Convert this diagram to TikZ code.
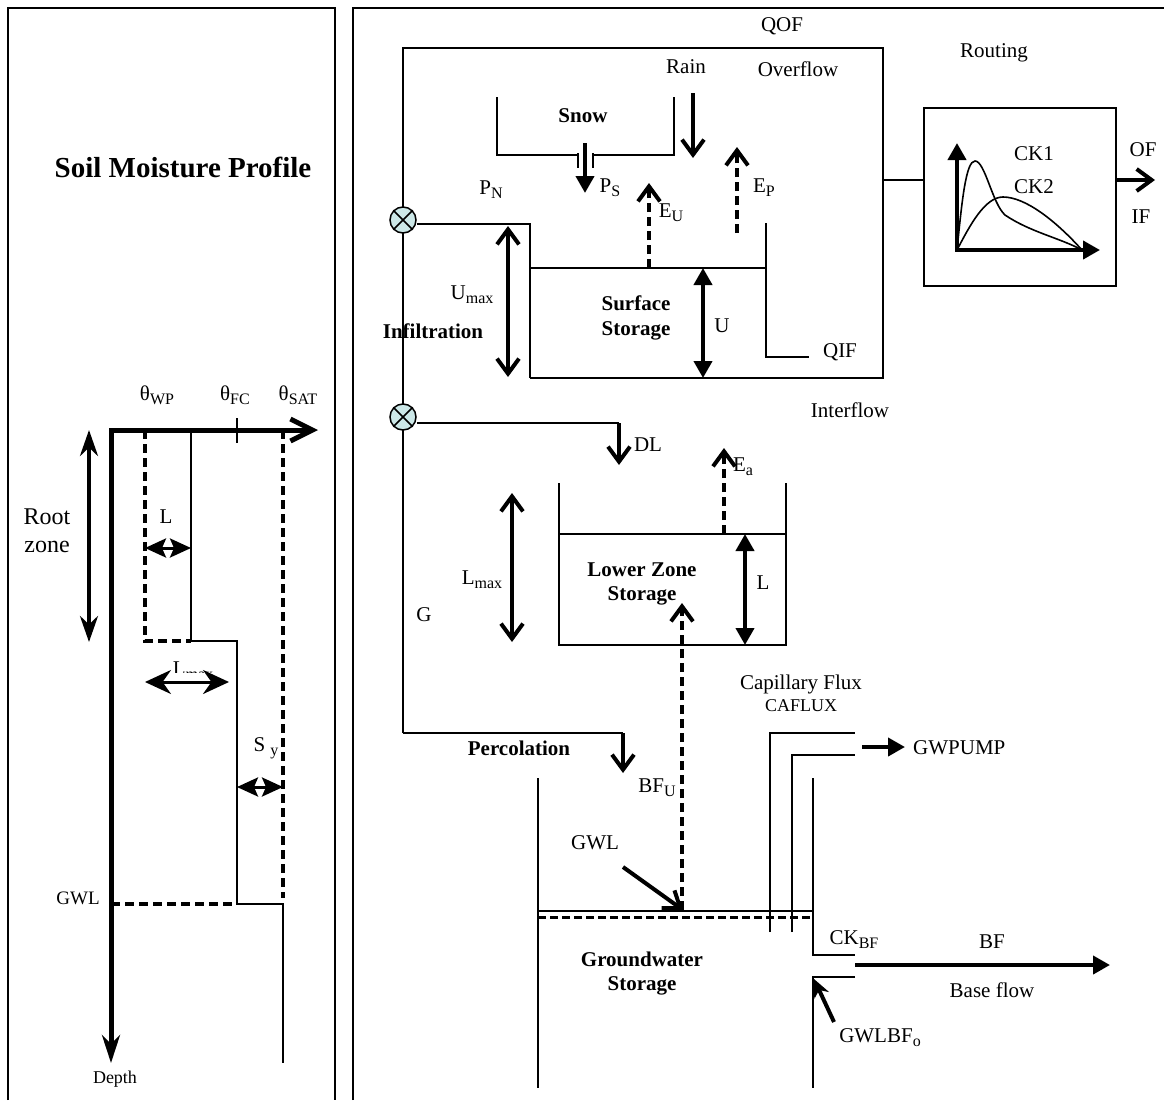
\documentclass[tikz,border=0pt]{standalone}
\usepackage{fontspec}
\setmainfont{Liberation Serif}
\usetikzlibrary{arrows.meta}
\newcommand{\mysub}[1]{\raisebox{-4pt}{\fontsize{16}{16}\selectfont #1}}
\definecolor{xfill}{RGB}{204,232,232}
\tikzset{
  lbl/.style={font=\fontsize{21}{24}\selectfont, inner sep=0pt},
  blbl/.style={font=\fontsize{21}{24}\selectfont\bfseries, inner sep=0pt, align=center},
  thinl/.style={line width=1.6pt},
  frame/.style={line width=1.8pt},
  thk/.style={line width=4pt},
  dsh/.style={line width=4pt, dash pattern=on 9pt off 5pt},
  gdsh/.style={line width=3pt, dash pattern=on 8pt off 4pt},
  ob/.tip={Straight Barb[length=15pt,width=22pt]},
  tri/.tip={Triangle[length=17pt,width=18pt]},
  stl/.tip={Stealth[length=26pt,width=18pt]},
  sml/.tip={Stealth[length=21pt,width=19pt,inset=4pt]},
  xcirc/.style={circle, draw, line width=1.5pt, fill=xfill, minimum size=26pt, inner sep=0pt},
}
\begin{document}
\begin{tikzpicture}[x=1pt,y=-1pt]
\useasboundingbox (0,0) rectangle (1164,1100);
% panels
\draw[frame] (8,1100) -- (8,8) -- (335,8) -- (335,1100);
\draw[frame] (353,1100) -- (353,8) -- (1164,8);

% ===== left panel =====
\node[font=\fontsize{29}{32}\selectfont\bfseries, inner sep=0pt] (title) at (183,167) {Soil Moisture Profile};
\node[lbl] (twp) at (157,395) {θ\mysub{WP}};
\node[lbl] (tfc) at (235,395) {θ\mysub{FC}};
\node[lbl] (tsat) at (298,395) {θ\mysub{SAT}};
\coordinate (O) at (111,430);
\coordinate (xe) at (318,430);
\coordinate (ye) at (111,1063);
\coordinate (wp0) at (145,430);
\coordinate (wp1) at (145,641);
\coordinate (fc0) at (191,430);
\coordinate (fc1) at (191,641);
\coordinate (fc2) at (237,641);
\coordinate (fc3) at (237,904);
\coordinate (fc4) at (283,904);
\coordinate (fc5) at (283,1063);
\coordinate (s0) at (283,430);
\coordinate (s1) at (283,898);
\coordinate (gw0) at (111,904);
\coordinate (gw1) at (232,904);
\draw[thinl] (fc0) -- (fc1) -- (fc2) -- (fc3) -- (fc4) -- (fc5);
\draw[dsh] (wp0) -- (wp1) -- (fc1);
\draw[dsh] (s0) -- (s1);
\draw[dsh] (gw0) -- (gw1);
\draw[thinl] (237,418) -- (237,443);
\draw[line width=5pt, {Stealth[length=28pt,width=18pt]}-{Straight Barb[length=22pt,width=22pt]}] (ye) -- (O) -- (xe);
\node[font=\fontsize{18}{20}\selectfont, inner sep=0pt] (depth) at (115,1079) {Depth};
\node[font=\fontsize{24}{28}\selectfont, inner sep=0pt, align=center] (root) at (47,531) {Root\\zone};
\draw[thk, stl-stl] (89,430) -- (89,642);
\node[lbl] (lL) at (166,517) {L};
\draw[line width=3pt, sml-sml] (145,548) -- (191,548);
\begin{scope}
  \clip (150,640) rectangle (232,672);
  \node[lbl, anchor=base] (lLmax) at (193,675) {L\mysub{max}};
\end{scope}
\draw[line width=3pt, {Stealth[length=26pt,width=24pt]}-{Stealth[length=26pt,width=24pt]}] (145,682) -- (229,682);
\node[lbl] (lSy) at (266,748) {S \mysub{y}};
\draw[line width=3pt, sml-sml] (237,787) -- (283,787);
\node[font=\fontsize{19}{22}\selectfont, inner sep=0pt] (lgwl) at (78,898) {GWL};

% ===== right panel =====
% upper box
\coordinate (bx0) at (403,733);
\coordinate (bx1) at (403,48);
\coordinate (bx2) at (883,48);
\coordinate (bx3) at (883,378);
\coordinate (bx4) at (530,378);
\draw[thinl] (bx0) -- (bx1) -- (bx2) -- (bx3) -- (bx4);
\node[xcirc] (c1) at (403,220) {};
\node[xcirc] (c2) at (403,417) {};
\foreach \c in {c1,c2} {
  \draw[line width=1.5pt] (\c.north west) -- (\c.south east);
  \draw[line width=1.5pt] (\c.north east) -- (\c.south west);
}
\coordinate (ss0) at (530,224);
\draw[thinl] ([yshift=-4pt]c1.east) -- (ss0) -- (bx4);
\coordinate (sw0) at (530,268);
\coordinate (sw1) at (766,268);
\draw[thinl] (sw0) -- (sw1);
\coordinate (qr0) at (766,223);
\coordinate (qr1) at (766,357);
\coordinate (qr2) at (809,357);
\draw[thinl] (qr0) -- (qr1) -- (qr2);
% snow
\draw[thinl] (497,97) -- (497,155) -- (578,155);
\draw[thinl] (593,155) -- (674,155) -- (674,97);
\draw[thinl] (578,153) -- (578,168);
\draw[thinl] (593,153) -- (593,168);
\node[blbl] (snow) at (583,116) {Snow};
\draw[thk, -tri] (585,143) -- (585,193);
\node[lbl] (ps) at (610,188) {P\mysub{S}};
\node[lbl] (rain) at (686,67) {Rain};
\draw[thk, -ob] (693,93) -- (693,158);
\node[lbl] (pn) at (491,190) {P\mysub{N}};
\draw[dsh, -ob] (649,268) -- (649,183);
\node[lbl] (eu) at (671,213) {E\mysub{U}};
\draw[dsh, -ob] (737,233) -- (737,147);
\node[lbl] (ep) at (764,188) {E\mysub{P}};
\node[lbl] (over) at (798,69) {Overflow};
\node[lbl] (qof) at (782,26) {QOF};
\node[lbl] (qif) at (840,352) {QIF};
\node[blbl, font=\fontsize{21}{25}\selectfont\bfseries] (ss) at (636,318) {Surface\\Storage};
\node[lbl] (umax) at (472,295) {U\mysub{max}};
\draw[thk, ob-ob] (508,226) -- (508,377);
\node[blbl] (inf) at (433,331) {Infiltration};
\draw[thk, tri-tri] (703,268) -- (703,378);
\node[lbl] (u) at (722,326) {U};
\node[lbl] (intf) at (850,410) {Interflow};
% routing
\node[draw, thinl, minimum width=192pt, minimum height=178pt, inner sep=0pt] (rbox) at (1020,197) {};
\draw[thinl] (883,180) -- (rbox.west |- 0,180);
\node[lbl] (rout) at (994,53) {Routing};
\coordinate (ro) at (957,250);
\draw[thk, tri-tri] (957,143) -- (ro) -- (1100,250);
\draw[thinl] (ro) .. controls (962,200) and (966,161) .. (975,161)
  .. controls (985,161) and (992,203) .. (1005,215)
  .. controls (1030,232) and (1060,238) .. (1082,250);
\draw[thinl] (ro) .. controls (970,225) and (985,197) .. (1003,197)
  .. controls (1025,197) and (1055,220) .. (1082,250);
\node[lbl] (ck1) at (1034,154) {CK1};
\node[lbl] (ck2) at (1034,187) {CK2};
\draw[thk, -ob] (rbox.east |- 0,180) -- (1155,180);
\node[lbl] (of) at (1143,150) {OF};
\node[lbl] (if) at (1141,217) {IF};
% lower zone
\coordinate (dl0) at (619,423);
\coordinate (dl1) at (619,465);
\draw[thinl] ([yshift=-6pt]c2.east) -- (dl0);
\draw[thk, -ob] (dl0) -- (dl1);
\node[lbl] (dl) at (648,445) {DL};
\draw[thinl] (559,483) -- (559,645) -- (786,645) -- (786,483);
\draw[thinl] (559,534) -- (786,534);
\node[blbl, font=\fontsize{21}{24}\selectfont\bfseries] (lzs) at (642,584) {Lower Zone\\Storage};
\draw[dsh, -ob] (724,534) -- (724,448);
\node[lbl] (ea) at (743,467) {E\mysub{a}};
\draw[thk, tri-tri] (745,534) -- (745,645);
\node[lbl] (ll) at (763,583) {L};
\draw[thk, ob-ob] (512,493) -- (512,642);
\node[lbl] (lmax) at (482,580) {L\mysub{max}};
\node[lbl] (g) at (424,615) {G};
\draw[dsh, -ob] (682,910) -- (682,603);
\node[lbl] (cap) at (801,684) {Capillary Flux};
\node[font=\fontsize{18}{20}\selectfont, inner sep=0pt] (caf) at (801,706) {CAFLUX};
% percolation
\coordinate (pc0) at (623,733);
\coordinate (pc1) at (623,773);
\draw[thinl] (bx0) -- (pc0);
\draw[thk, -ob] (pc0) -- (pc1);
\node[blbl] (perc) at (519,748) {Percolation};
\node[lbl] (bfu) at (657,788) {BF\mysub{U}};
% groundwater
\draw[thinl] (538,778) -- (538,1088);
\draw[thinl] (813,778) -- (813,955) -- (855,955);
\draw[thinl] (855,977) -- (813,977) -- (813,1088);
\draw[thinl] (538,911) -- (813,911);
\draw[gdsh] (538,917) -- (813,917);
\draw[thinl] (770,932) -- (770,733) -- (855,733);
\draw[thinl] (792,932) -- (792,755) -- (855,755);
\draw[thk, -tri] (862,747) -- (905,747);
\node[lbl, anchor=west] (pump) at (913,748) {GWPUMP};
\node[lbl] (gwl) at (595,843) {GWL};
\draw[thk, -ob] (623,867) -- (683,910);
\node[blbl, font=\fontsize{21}{24}\selectfont\bfseries] (gws) at (642,974) {Groundwater\\Storage};
\node[lbl] (ckbf) at (854,940) {CK\mysub{BF}};
\draw[thk, -tri] (855,965) -- (1110,965);
\node[lbl] (bf) at (992,942) {BF};
\node[lbl] (base) at (992,990) {Base flow};
\draw[thk, -{Stealth[length=18pt,width=16pt]}] (834,1022) -- (814,979);
\node[lbl] (gwlbf) at (880,1038) {GWLBF\mysub{o}};
\end{tikzpicture}
\end{document}
